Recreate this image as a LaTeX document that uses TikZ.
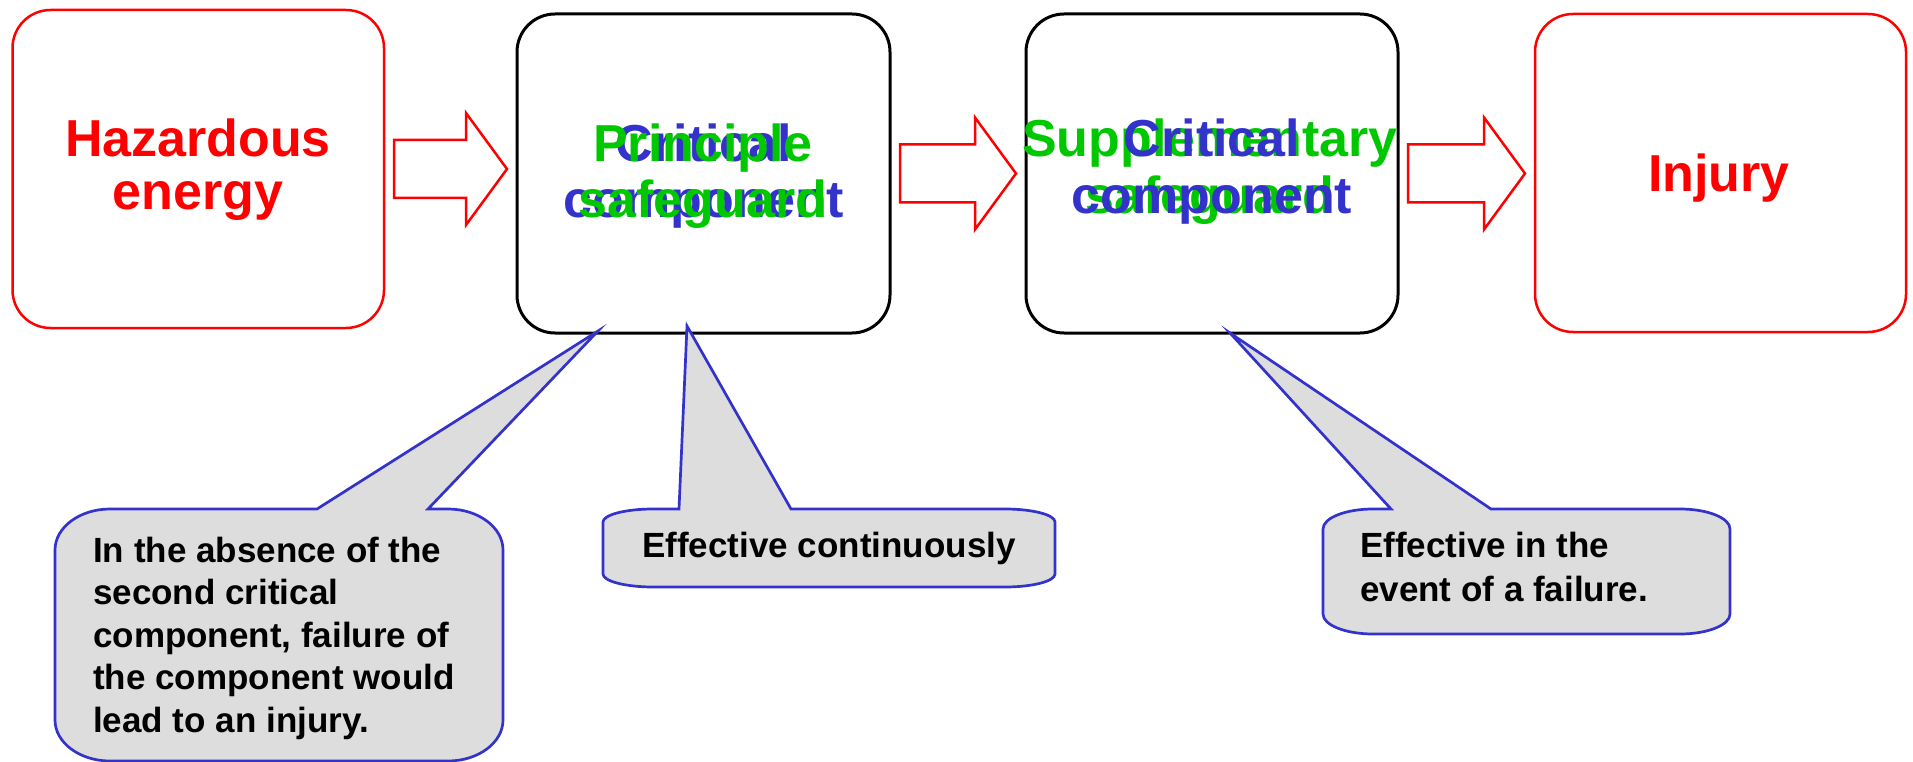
\documentclass[tikz,border=0pt]{standalone}
\usepackage{fontspec}
\setmainfont{Liberation Sans}
\usetikzlibrary{calc}
\definecolor{hred}{RGB}{255,0,0}
\definecolor{hgreen}{RGB}{0,200,0}
\definecolor{hblue}{RGB}{51,51,204}
\definecolor{cgray}{RGB}{221,221,221}
\tikzset{
  redbox/.style={draw=hred, line width=2.5pt, rounded corners=38pt, inner sep=0pt, outer sep=0pt},
  blackbox/.style={draw=black, line width=3pt, rounded corners=38pt, inner sep=0pt, outer sep=0pt},
  bigtext/.style={font=\fontsize{52}{56}\selectfont\bfseries, align=center, inner sep=0pt, anchor=base},
  smalltext/.style={font=\fontsize{35}{42.4}\selectfont\bfseries, align=left, inner sep=0pt, anchor=base west, text=black},
  callout/.style={draw=hblue, fill=cgray, line width=2.7pt, line join=miter},
  barrow/.style={draw=hred, line width=2.5pt, fill=white, line join=miter}
}
% L T R B rx ry a b tip
\newcommand{\calloutpath}[9]{%
  \draw[callout] ({#1+#5},#2) -- (#7,#2) -- (#9) -- (#8,#2) -- ({#3-#5},#2)
   .. controls ({#3-0.448*#5},#2) and (#3,{#2+0.448*#6}) .. (#3,{#2+#6})
   -- (#3,{#4-#6})
   .. controls (#3,{#4-0.448*#6}) and ({#3-0.448*#5},#4) .. ({#3-#5},#4)
   -- ({#1+#5},#4)
   .. controls ({#1+0.448*#5},#4) and (#1,{#4-0.448*#6}) .. (#1,{#4-#6})
   -- (#1,{#2+#6})
   .. controls (#1,{#2+0.448*#6}) and ({#1+0.448*#5},#2) .. ({#1+#5},#2) -- cycle;}
\newcommand{\blockarrow}[2]{%
  \draw[barrow] let \p1=(#1.east), \p2=(#2.west) in
    (\x1+10pt,\y1+29pt) -- (\x2-51pt,\y1+29pt) -- (\x2-51pt,\y1+56pt)
    -- (\x2-10pt,\y1) -- (\x2-51pt,\y1-56pt) -- (\x2-51pt,\y1-29pt)
    -- (\x1+10pt,\y1-29pt) -- cycle;}
\begin{document}
\begin{tikzpicture}[x=1pt,y=-1pt]
\useasboundingbox (0,0) rectangle (1913,762);
% boxes
\node[redbox, minimum width=371.5pt, minimum height=318pt] (haz) at (198.25,169) {};
\node[blackbox, minimum width=373pt, minimum height=319pt] (crit1) at (703.5,173.5) {};
\node[blackbox, minimum width=372pt, minimum height=319pt] (crit2) at (1212,173.5) {};
\node[redbox, minimum width=371pt, minimum height=318pt] (inj) at (1720.5,173) {};
% box texts (base anchor = last line baseline)
\node[bigtext, text=hred, font=\fontsize{52}{54}\selectfont\bfseries] (tHaz) at (198,210) {Hazardous\\energy};
\node[bigtext, text=hblue] (tCrit1) at (704,218) {Critical\\component};
\node[bigtext, text=hgreen] (tPrin) at (703,218) {Principle\\safeguard};
\node[bigtext, text=hgreen] (tSupp) at (1210,213) {Supplementary\\safeguard};
\node[bigtext, text=hblue] (tCrit2) at (1212,213) {Critical\\component};
\node[bigtext, text=hred] (tInj) at (1719,192) {Injury};
% block arrows
\blockarrow{haz}{crit1}
\blockarrow{crit1}{crit2}
\blockarrow{crit2}{inj}
% callouts
\coordinate (tip1) at (598,331);
\coordinate (tip2) at (687,326);
\coordinate (tip3) at (1230,333);
\calloutpath{55}{509}{503}{761}{55}{41}{317}{428}{tip1}
\calloutpath{603}{509}{1055}{587}{50}{13}{679}{791}{tip2}
\calloutpath{1323}{509}{1730}{634}{50}{20}{1391}{1491}{tip3}
\node[smalltext] (c1) at (93,732) {In the absence of the\\second critical\\component, failure of\\the component would\\lead to an injury.};
\node[smalltext, anchor=base] (c2) at (829,557) {Effective continuously};
\node[smalltext, font=\fontsize{35}{44}\selectfont\bfseries] (c3) at (1360,601) {Effective in the\\event of a failure.};
\end{tikzpicture}
\end{document}
